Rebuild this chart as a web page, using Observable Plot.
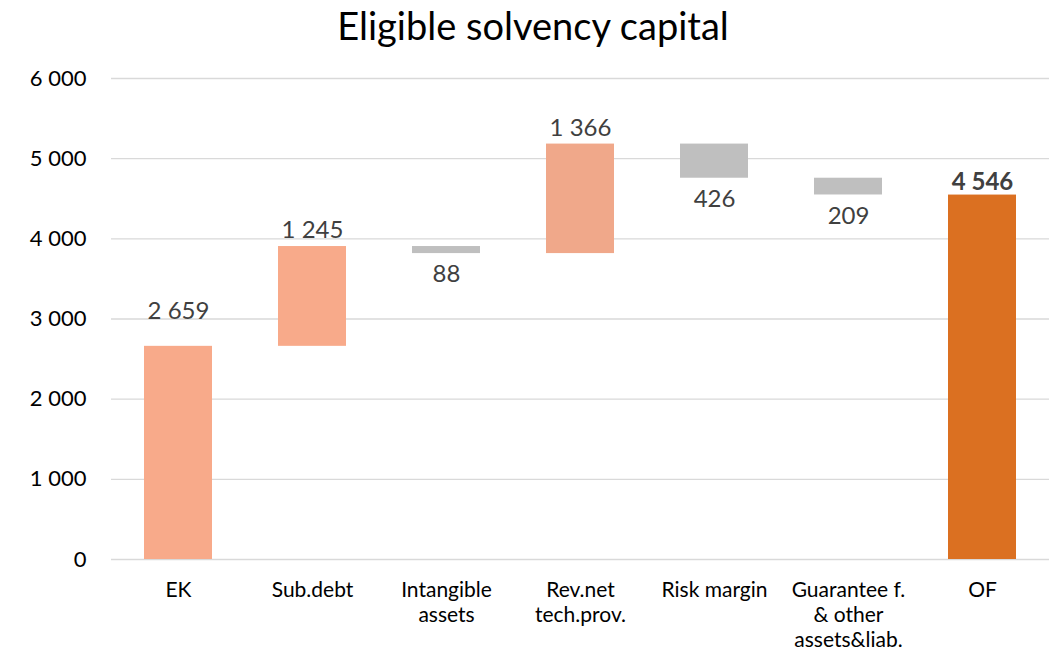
<!DOCTYPE html>
<html><head><meta charset="utf-8">
<script src="https://cdn.jsdelivr.net/npm/d3@7"></script>
<script src="https://cdn.jsdelivr.net/npm/@observablehq/plot@0.6"></script>
<style>
body{margin:0;background:#fff;font-family:Lato,"Open Sans",sans-serif;}
#title{height:58px;text-align:center;font-size:38px;line-height:50px;color:#000;padding-left:10px;box-sizing:border-box;}
#chart svg{display:block;}
</style></head><body>
<div id="title">Eligible solvency capital</div>
<div id="chart"></div>
<script>
const categories = ["EK","Sub.debt","Intangible assets","Rev.net tech.prov.","Risk margin","Guarantee f. & other assets&liab.","OF"];
const axisLabels = ["EK","Sub.debt","Intangible\nassets","Rev.net\ntech.prov.","Risk margin","Guarantee f.\n& other\nassets&liab.","OF"];
const changes = [2659, 1245, -88, 1366, -426, -209, 4546];
const kinds = ["inc","inc","dec","inc2","dec","dec","total"];
const yTicks = [0,1000,2000,3000,4000,5000,6000];
const colors = {inc:"#F8AA8A", inc2:"#F0A88A", dec:"#BFBFBF", total:"#DB7021"};

let run = 0;
const rows = categories.map((c,i)=>{
  const v = changes[i], k = kinds[i];
  let y1, y2;
  if (k === "total") { y1 = 0; y2 = v; }
  else { y1 = run; y2 = run + v; run = y2; }
  return {cat:c, axis:axisLabels[i], value:v, kind:k, y1, y2, top:Math.max(y1,y2), bottom:Math.min(y1,y2)};
});
const fmt = v => d3.format(",")(Math.abs(v)).replace(/,/g," ");
const labelMap = new Map(categories.map((c,i)=>[c,axisLabels[i]]));
const font = "Lato, 'Open Sans', sans-serif";

const chart = Plot.plot({
  width:1056, height:602,
  marginTop:20, marginBottom:101, marginLeft:111, marginRight:7,
  style:{fontFamily:font, background:"#fff"},
  x:{domain:categories, paddingInner:0.49, paddingOuter:0.245, label:null},
  y:{domain:[0,6000], label:null},
  marks:[
    Plot.ruleY(yTicks,{stroke:"#D9D9D9", strokeWidth:1.3}),
    Plot.axisY({ticks:yTicks, tickSize:0, tickPadding:25, tickFormat:fmt, fontSize:22, fill:"#000", label:null}),
    Plot.axisX({tickSize:0, tickPadding:20, tickFormat:d=>labelMap.get(d), fontSize:21, lineHeight:1.18, fill:"#000", label:null, lineAnchor:"top"}),
    Plot.barY(rows,{x:"cat", y1:"y1", y2:"y2", fill:d=>colors[d.kind]}),
    Plot.text(rows.filter(d=>d.cat==="EK"),{x:"cat", y:"top", text:d=>fmt(d.value), dy:-35, fontSize:24, fill:"#404040"}),
    Plot.text(rows.filter(d=>d.kind==="inc2" || (d.kind==="inc" && d.cat!=="EK")),{x:"cat", y:"top", text:d=>fmt(d.value), dy:-16, fontSize:24, fill:"#404040"}),
    Plot.text(rows.filter(d=>d.kind==="dec"),{x:"cat", y:"bottom", text:d=>fmt(d.value), dy:21, fontSize:24, fill:"#404040"}),
    Plot.text(rows.filter(d=>d.kind==="total"),{x:"cat", y:"top", text:d=>fmt(d.value), dy:-13, fontSize:24, fontWeight:"bold", fill:"#404040"})
  ]
});
document.getElementById("chart").appendChild(chart);
</script>
</body></html>
